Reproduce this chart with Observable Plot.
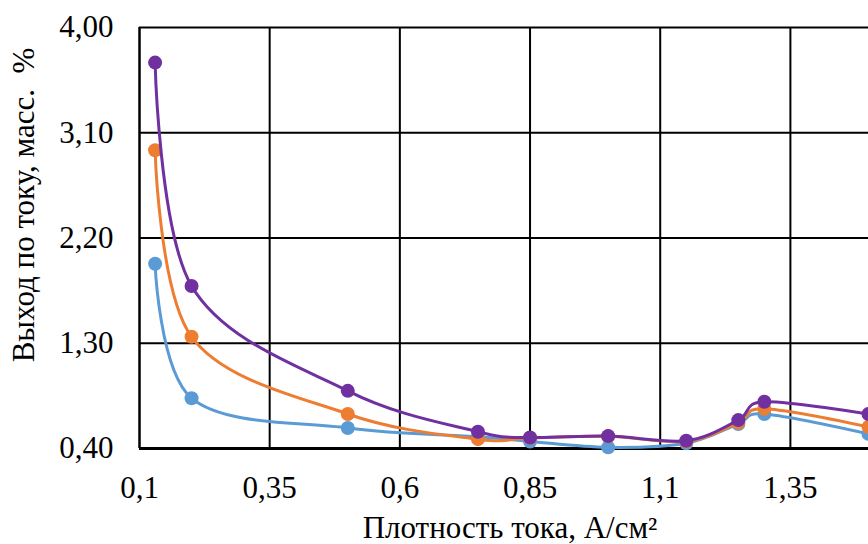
<!DOCTYPE html>
<html>
<head>
<meta charset="utf-8">
<script src="https://cdn.jsdelivr.net/npm/d3@7"></script>
<script src="https://cdn.jsdelivr.net/npm/@observablehq/plot@0.6"></script>
<style>
  html, body { margin: 0; padding: 0; background: #fff; overflow: hidden; }
  #chart svg, #chart svg text { font-family: "Liberation Serif", "Times New Roman", serif !important; }
  #chart svg text { font-size: 31px; fill: #000; }
</style>
</head>
<body>
<div id="chart"></div>
<script>
// Current density, A/cm²
const density = [0.13, 0.2, 0.5, 0.75, 0.85, 1.0, 1.15, 1.25, 1.3, 1.5];
// Current yield, mass % — three series
const seriesNames = ["Серия 1", "Серия 2", "Серия 3"];
const seriesBlue   = [1.98, 0.83, 0.575, 0.50, 0.46, 0.41, 0.445, 0.61, 0.695, 0.525];
const seriesOrange = [2.95, 1.355, 0.695, 0.48, 0.49, 0.505, 0.46, 0.62, 0.74, 0.585];
const seriesPurple = [3.70, 1.79, 0.893, 0.543, 0.494, 0.506, 0.466, 0.643, 0.80, 0.695];
const seriesColors = ["#5B9BD5", "#ED7D31", "#7030A0"];
// Tick labels and titles
const xTicks = [0.1, 0.35, 0.6, 0.85, 1.1, 1.35];
const yTicks = [0.4, 1.3, 2.2, 3.1, 4.0];
const xTitle = "Плотность тока, А/см²";
const yTitle = "Выход по току, масс.  %";

const font = {fontFamily: "Liberation Serif, Times New Roman, serif", fontSize: 31};

const allSeries = [seriesBlue, seriesOrange, seriesPurple];
const rows = allSeries.map((vals, i) =>
  density.map((x, j) => ({x, y: vals[j], series: seriesNames[i]}))
);

const seriesMarks = rows.flatMap((data, i) => [
  Plot.line(data, {x: "x", y: "y", stroke: seriesColors[i], strokeWidth: 3, curve: "cardinal"}),
  Plot.dot(data, {x: "x", y: "y", fill: seriesColors[i], r: 7})
]);

const chart = Plot.plot({
  width: 868,
  height: 544,
  marginLeft: 139,
  marginRight: 0,
  marginTop: 27,
  marginBottom: 96,
  x: {domain: [0.1, 1.5]},
  y: {domain: [0.4, 4.0]},
  marks: [
    Plot.gridX(xTicks.slice(1), {stroke: "#000", strokeOpacity: 1, strokeWidth: 2}),
    Plot.gridY(yTicks, {stroke: "#000", strokeOpacity: 1, strokeWidth: 2}),
    Plot.ruleX([0.1], {stroke: "#000", strokeWidth: 2.5}),
    Plot.ruleY([0.4], {stroke: "#000", strokeWidth: 3}),
    ...seriesMarks,
    Plot.axisX({
      ticks: xTicks,
      tickFormat: d => String(d).replace(".", ","),
      tickSize: 0,
      tickPadding: 27,
      label: null,
      ...font
    }),
    Plot.axisY({
      ticks: yTicks,
      tickFormat: d => d.toFixed(2).replace(".", ","),
      tickSize: 0,
      tickPadding: 26,
      label: null,
      ...font
    }),
    Plot.text([xTitle], {
      text: d => d,
      frameAnchor: "bottom",
      textAnchor: "middle",
      lineAnchor: "bottom",
      dx: 6,
      dy: 89,
      ...font
    }),
    Plot.text([yTitle], {
      text: d => d,
      frameAnchor: "left",
      textAnchor: "middle",
      lineAnchor: "top",
      rotate: -90,
      dx: -128,
      dy: -33,
      ...font
    })
  ]
});

document.getElementById("chart").appendChild(chart);
</script>
</body>
</html>
